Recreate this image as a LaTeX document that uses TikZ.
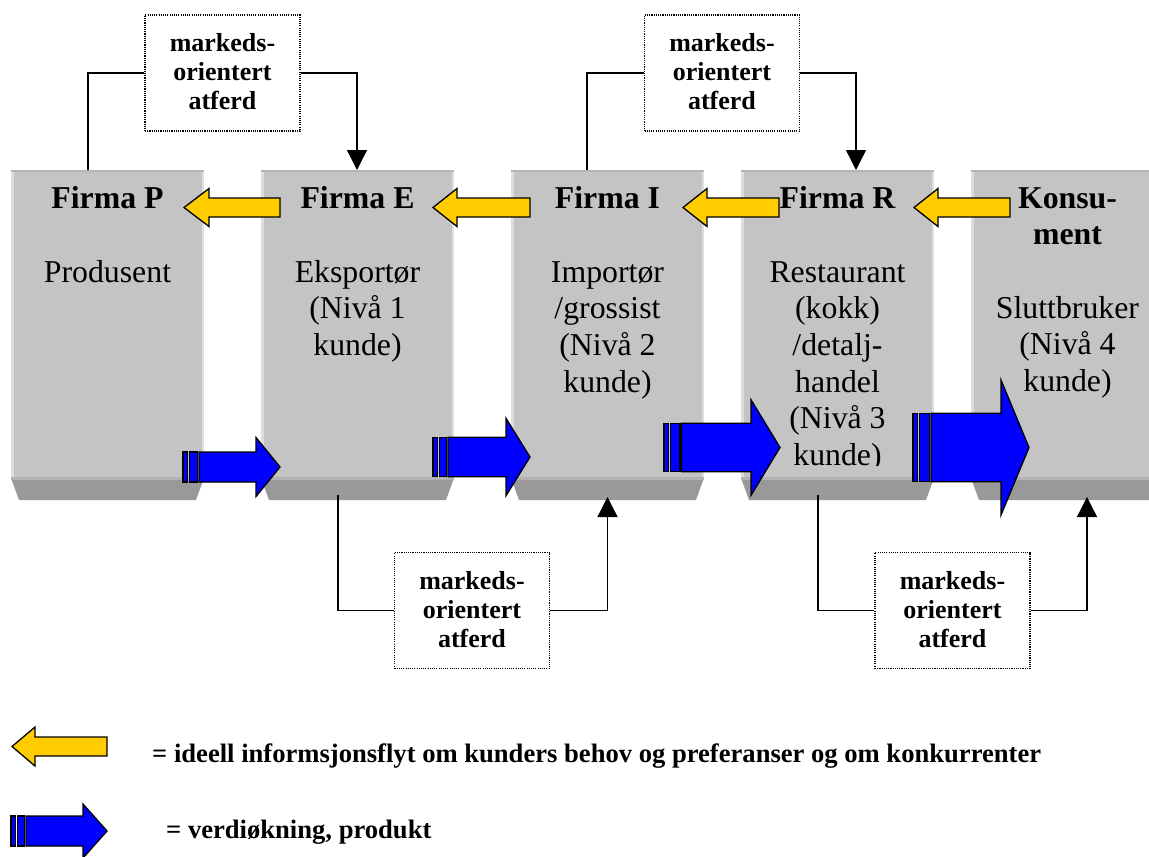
\documentclass[tikz,border=0pt]{standalone}
\usepackage{fontspec}
\setmainfont{Liberation Serif}
\usetikzlibrary{arrows.meta}
\definecolor{blockgray}{RGB}{196,196,196}
\definecolor{blockdark}{RGB}{153,153,153}
\definecolor{blockhi}{RGB}{222,222,222}
\definecolor{blocktop}{RGB}{180,180,180}
\definecolor{blockband}{RGB}{178,178,178}
\definecolor{infoyellow}{RGB}{255,204,0}
\definecolor{valueblue}{RGB}{0,0,255}
% tip, head base, tail, centre y, shaft half, head half
\newcommand\yellowarrow[6]{%
  \draw[yarr] (#1,#4) -- (#2,#4-#6) -- (#2,#4-#5) -- (#3,#4-#5) -- (#3,#4+#5) -- (#2,#4+#5) -- (#2,#4+#6) -- cycle;}
% stripe start, body start, head base, tip, centre y, shaft half, head half
\newcommand\bluearrow[7]{%
  \draw[barr] (#1,#5-#6) rectangle (#1+4.5,#5+#6);
  \draw[barr] (#1+6.5,#5-#6) rectangle (#2-1.5,#5+#6);
  \draw[barr] (#2,#5-#6) -- (#3,#5-#6) -- (#3,#5-#7) -- (#4,#5) -- (#3,#5+#7) -- (#3,#5+#6) -- (#2,#5+#6) -- cycle;}
\newcommand\firmblock[2]{%
  \node[blockbox] (#1) at (#2,324) {};
  \fill[blockhi] (#1.north west) rectangle ([xshift=3pt]#1.south west);
  \fill[blockhi] ([xshift=-2pt]#1.north east) rectangle (#1.south east);
  \fill[blocktop] (#1.north west) rectangle ([yshift=-2pt]#1.north east);
  \fill[blockdark] (#1.south west) -- (#1.south east) -- ([xshift=-8pt,yshift=-22pt]#1.south east) -- ([xshift=8pt,yshift=-22pt]#1.south west) -- cycle;
  \fill[blockband] ([yshift=1pt]#1.south west) rectangle ([yshift=-1.5pt]#1.south east);}
\newcommand\mktext{\raisebox{-2pt}[\height][\depth]{\begin{tabular}{@{}c@{}}markeds-\\orientert\\atferd\end{tabular}}}
\begin{document}
\begin{tikzpicture}[x=1pt,y=-1pt,line join=miter,
  blockbox/.style={fill=blockgray,minimum width=193pt,minimum height=308pt,inner sep=0pt,outer sep=0pt},
  mbox/.style={draw,line width=1.1pt,dash pattern=on 1.1pt off 1.1pt,minimum width=155pt,minimum height=116pt,inner sep=0pt,font=\fontsize{26}{29}\selectfont\bfseries},
  conn/.style={line width=1.3pt},
  arr/.style={conn,-{Triangle[width=20pt,length=20pt]}},
  yarr/.style={fill=infoyellow,draw=black,line width=1.3pt},
  barr/.style={fill=valueblue,draw=black,line width=1.3pt},
  firmtitle/.style={anchor=base,inner sep=0pt,font=\fontsize{31.8}{36.7}\selectfont\bfseries},
  firmdesc/.style={anchor=base,inner sep=0pt,font=\fontsize{31.8}{36.7}\selectfont},
  legendtext/.style={anchor=base west,inner sep=0pt,font=\fontsize{26.6}{30}\selectfont\bfseries}]
\useasboundingbox (0,0) rectangle (1149,857);
\fill[white] (0,0) rectangle (1149,857);

% blocks
\firmblock{b1}{107.5}
\firmblock{b2}{357.5}
\firmblock{b3}{607.5}
\firmblock{b4}{837.5}
\firmblock{b5}{1067.5}

% market-oriented behaviour boxes
\node[mbox] (m1) at (222.5,73) {\mktext};
\node[mbox] (m2) at (722,73) {\mktext};
\node[mbox] (m3) at (472,610.5) {\mktext};
\node[mbox] (m4) at (952.5,610.5) {\mktext};

% connectors
\draw[conn] (m1.west) -| ([xshift=-19.5pt]b1.north);
\draw[arr] (m1.east) -| ([xshift=-0.5pt]b2.north);
\draw[conn] (m2.west) -| ([xshift=-20.5pt]b3.north);
\draw[arr] (m2.east) -| ([xshift=18.5pt]b4.north);
\draw[conn] (m3.west) -| ([xshift=-19.5pt,yshift=-17pt]b2.south);
\draw[arr] (m3.east) -| ([yshift=-19pt]b3.south);
\draw[conn] (m4.west) -| ([xshift=-19.5pt,yshift=-17pt]b4.south);
\draw[arr] (m4.east) -| ([xshift=19.5pt,yshift=-19pt]b5.south);

% texts in blocks
\node[firmtitle] (t1) at (107.5,208) {Firma P};
\node[firmtitle] (t2) at (357.5,208) {Firma E};
\node[firmtitle] (t3) at (607.5,208) {Firma I};
\node[firmtitle] (t4) at (837.5,208) {Firma R};
\node[firmtitle] (t5) at (1067.5,208) {\begin{tabular}[t]{@{}c@{}}Konsu-\\ment\end{tabular}};
\node[firmdesc] (d1) at (107.5,282) {\begin{tabular}[t]{@{}c@{}}Produsent\end{tabular}};
\node[firmdesc] (d2) at (357.5,282) {\begin{tabular}[t]{@{}c@{}}Eksportør\\(Nivå 1\\kunde)\end{tabular}};
\node[firmdesc] (d3) at (607.5,282) {\begin{tabular}[t]{@{}c@{}}Importør\\/grossist\\(Nivå 2\\kunde)\end{tabular}};
\begin{scope}
\clip (741,170) rectangle (934,465);
\node[firmdesc] (d4) at (837.5,282) {\begin{tabular}[t]{@{}c@{}}Restaurant\\(kokk)\\/detalj-\\handel\\(Nivå 3\\kunde)\end{tabular}};
\end{scope}
\node[firmdesc] (d5) at (1067.5,318) {\begin{tabular}[t]{@{}c@{}}Sluttbruker\\(Nivå 4\\kunde)\end{tabular}};

% information flow arrows
\yellowarrow{184}{209}{280}{207.5}{9.5}{19}
\yellowarrow{433}{457}{530}{207.5}{9.5}{19}
\yellowarrow{683}{707}{779}{207.5}{9.5}{19}
\yellowarrow{914}{938}{1010}{207.5}{9.5}{19}

% value flow arrows
\bluearrow{183}{199}{256}{280}{467}{15}{29.5}
\bluearrow{433}{448}{506}{530}{457}{19.7}{38.7}
\bluearrow{664}{681.5}{751}{780}{447.5}{24.2}{47.8}
\bluearrow{913}{931}{1001}{1029}{447.5}{34.2}{67.5}

% legend
\yellowarrow{12}{35}{107}{746.5}{9.5}{19.5}
\node[legendtext] (l1) at (152,762) {= ideell informsjonsflyt om kunders behov og preferanser og om konkurrenter};
\bluearrow{11}{26}{83}{107}{831}{15}{27}
\node[legendtext] (l2) at (166,838) {= verdiøkning, produkt};
\end{tikzpicture}
\end{document}
